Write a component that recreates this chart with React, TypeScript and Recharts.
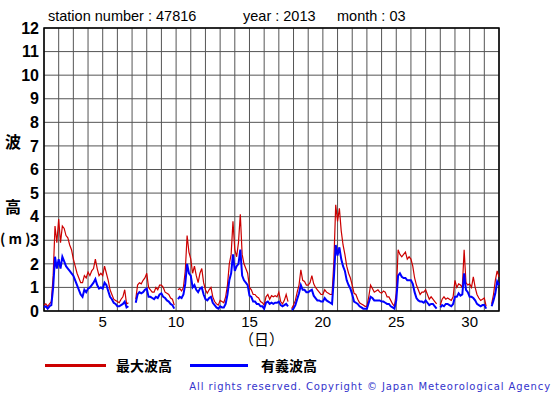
import React from 'react';
import { LineChart, Line, XAxis, YAxis, CartesianGrid, ReferenceArea } from 'recharts';

// 3-hourly readings, 8 per day, day 1 00h .. day 32 00h (null = missing data)
const maxWave = [
  0.25, 0.3, 0.2, 0.3, 0.4, 1.5, 3.6, 2.9, // 1
  3.9, 2.9, 3.6, 3.5, 3.2, 3.1, 2.8, 2.6, // 2
  2.2, 1.9, 1.6, 1.4, 1.2, 1.2, 1.5, 1.4, // 3
  1.65, 1.5, 1.7, 1.8, 2.2, 1.8, 1.5, 1.6, // 4
  1.5, 1.9, 1.6, 1.3, 0.9, 0.7, 0.5, 0.45, // 5
  0.4, 0.35, 0.5, 0.6, 0.9, 0.3, 0.35, null, // 6
  null, null, 0.5, 1.1, 1.2, 1.15, 1.3, 1.4, // 7
  1.6, 1.0, 0.9, 0.8, 0.8, 1.0, 0.9, 1.1, // 8
  1.1, 1.0, 0.8, 0.75, 0.7, 0.55, 0.5, 0.25, // 9
  null, 0.9, 0.95, 0.85, 1.0, 1.7, 3.2, 2.5, // 10
  2.2, 1.6, 1.9, 1.5, 1.2, 1.6, 1.8, 1.2, // 11
  0.9, 0.75, 0.9, 1.0, 0.6, 0.4, 0.3, 0.25, // 12
  0.45, 0.4, 0.35, 0.6, 1.1, 2.0, 2.4, 3.8, // 13
  2.6, 2.3, 2.9, 4.1, 2.4, 2.0, 1.8, 1.6, // 14
  1.0, 0.9, 0.7, 0.7, 0.6, 0.55, 0.4, 0.35, // 15
  0.25, 0.6, 0.7, 0.5, 0.65, 0.6, 0.65, 0.6, // 16
  0.8, 0.4, 0.3, 0.45, 0.7, 0.4, null, 0.1, // 17
  0.25, 0.45, 0.8, 1.1, 1.75, 1.3, 1.25, 1.1, // 18
  1.1, 1.2, 1.5, 1.15, 1.0, 0.9, 0.8, 0.7, // 19
  0.7, 0.9, 0.8, 0.75, 0.7, 0.7, 2.1, 4.5, // 20
  3.8, 4.35, 3.4, 2.8, 2.4, 1.9, 1.6, 1.4, // 21
  1.1, 0.75, 0.7, 0.5, 0.35, 0.3, 0.25, 0.2, // 22
  0.2, 0.6, 1.1, 0.95, 0.8, 0.85, 0.9, 0.8, // 23
  0.75, 0.85, 0.8, 0.6, 0.6, 0.45, 0.3, 0.2, // 24
  0.75, 2.6, 2.4, 2.3, 2.4, 2.5, 2.2, 2.3, // 25
  2.2, 1.9, 1.4, 1.1, 0.9, 0.7, 0.8, 0.8, // 26
  0.9, 0.7, 0.5, 0.6, 0.5, 0.4, 0.3, null, // 27
  0.25, 0.5, 0.6, 0.5, 0.55, 0.5, 0.45, 0.6, // 28
  1.3, 1.0, 1.15, 1.1, 1.0, 2.6, 1.2, 1.1, // 29
  1.15, 1.0, 1.45, 1.0, 0.7, 0.55, 0.45, 0.5, // 30
  0.55, 0.2, null, null, 0.3, 0.7, 1.3, 1.7, // 31
  1.45,
];

const sigWave = [
  0.15, 0.2, 0.1, 0.2, 0.25, 1.0, 2.3, 1.8, // 1
  2.2, 1.8, 2.3, 2.1, 1.9, 1.8, 1.7, 1.6, // 2
  1.5, 1.3, 1.1, 0.9, 0.7, 0.6, 0.9, 0.8, // 3
  0.95, 1.0, 1.1, 1.2, 1.35, 1.1, 0.95, 1.0, // 4
  0.95, 1.2, 1.1, 0.85, 0.6, 0.5, 0.35, 0.3, // 5
  0.2, 0.2, 0.25, 0.3, 0.4, 0.15, 0.2, null, // 6
  null, null, 0.35, 0.7, 0.8, 0.75, 0.8, 0.9, // 7
  0.95, 0.6, 0.6, 0.55, 0.5, 0.6, 0.55, 0.7, // 8
  0.75, 0.6, 0.55, 0.45, 0.4, 0.3, 0.25, 0.1, // 9
  null, 0.5, 0.6, 0.55, 0.7, 1.15, 2.0, 1.6, // 10
  1.5, 1.0, 1.1, 0.9, 0.8, 0.95, 1.0, 0.7, // 11
  0.5, 0.45, 0.55, 0.6, 0.35, 0.25, 0.15, 0.1, // 12
  0.2, 0.15, 0.15, 0.3, 0.7, 1.3, 1.6, 2.4, // 13
  1.7, 1.9, 2.0, 2.6, 1.5, 1.3, 1.2, 1.1, // 14
  0.65, 0.6, 0.4, 0.4, 0.3, 0.3, 0.2, 0.2, // 15
  0.1, 0.35, 0.4, 0.3, 0.35, 0.3, 0.35, 0.35, // 16
  0.4, 0.25, 0.2, 0.25, 0.3, 0.2, null, 0.05, // 17
  0.1, 0.25, 0.5, 0.75, 1.1, 0.9, 0.9, 0.8, // 18
  0.8, 0.85, 0.9, 0.65, 0.55, 0.45, 0.45, 0.4, // 19
  0.4, 0.55, 0.45, 0.4, 0.35, 0.3, 1.4, 2.8, // 20
  2.35, 2.7, 2.2, 1.9, 1.7, 1.3, 1.1, 0.95, // 21
  0.7, 0.4, 0.35, 0.3, 0.2, 0.15, 0.1, 0.1, // 22
  0.1, 0.35, 0.6, 0.55, 0.45, 0.45, 0.45, 0.45, // 23
  0.4, 0.4, 0.35, 0.3, 0.3, 0.2, 0.15, 0.1, // 24
  0.45, 1.5, 1.6, 1.45, 1.4, 1.4, 1.3, 1.3, // 25
  1.3, 1.15, 0.8, 0.55, 0.45, 0.4, 0.4, 0.35, // 26
  0.45, 0.35, 0.25, 0.3, 0.3, 0.2, 0.1, null, // 27
  0.15, 0.25, 0.2, 0.3, 0.3, 0.25, 0.2, 0.3, // 28
  0.6, 0.6, 0.75, 0.65, 0.7, 1.6, 0.9, 0.8, // 29
  0.6, 0.6, 0.55, 0.45, 0.3, 0.25, 0.2, 0.25, // 30
  0.25, 0.1, null, null, 0.2, 0.45, 0.75, 1.25, // 31
  1.1,
];

const dayTicks = [1, 2, 3, 4, 5, 6, 7, 8, 9, 10, 11, 12, 13, 14, 15, 16, 17, 18, 19, 20, 21, 22, 23, 24, 25, 26, 27, 28, 29, 30, 31, 32];
const heightTicks = [0, 1, 2, 3, 4, 5, 6, 7, 8, 9, 10, 11, 12];

const data = maxWave.map((v, i) => ({ t: 1 + i / 8, max: v, sig: sigWave[i] }));

const cjk = '"Noto Sans CJK JP", sans-serif';
const latin = '"Liberation Sans", Arial, sans-serif';

export default function App() {
  return (
    <div style={{ position: 'relative', width: 555, height: 395, background: '#fff', fontFamily: latin }}>
      <style>{'body{margin:0}'}</style>
      <LineChart width={555} height={395} data={data} margin={{ top: 28, right: 56, bottom: 54, left: 14 }}>
        <CartesianGrid stroke="#555" strokeWidth={1} />
        <XAxis
          dataKey="t"
          type="number"
          domain={[1, 32]}
          ticks={dayTicks}
          interval={0}
          tickFormatter={(d: number) => (d % 5 === 0 ? String(d) : '')}
          tickSize={0}
          tickMargin={5}
          axisLine={false}
          height={30}
          tick={{ fill: '#000', fontSize: 15, fontFamily: latin }}
        />
        <YAxis
          type="number"
          domain={[0, 12]}
          ticks={heightTicks}
          interval={0}
          tickSize={0}
          tickMargin={5}
          axisLine={false}
          width={30}
          tick={{ fill: '#000', fontSize: 16, fontWeight: 'bold', fontFamily: latin }}
        />
        <Line dataKey="max" stroke="#cc0000" strokeWidth={1.2} dot={false} connectNulls={false} isAnimationActive={false} />
        <Line dataKey="sig" stroke="#0000ff" strokeWidth={2} dot={false} connectNulls={false} isAnimationActive={false} />
        <ReferenceArea x1={1} x2={32} y1={0} y2={12} fill="none" stroke="#000" strokeWidth={1.5} ifOverflow="visible" />
      </LineChart>

      <div style={{ position: 'absolute', left: 48, top: 8, fontSize: 14.5, whiteSpace: 'pre' }}>station number : 47816</div>
      <div style={{ position: 'absolute', left: 243, top: 8, fontSize: 14.5, whiteSpace: 'pre' }}>year : 2013</div>
      <div style={{ position: 'absolute', left: 337, top: 8, fontSize: 14.5, whiteSpace: 'pre' }}>month : 03</div>

      <div style={{ position: 'absolute', left: 5, top: 131, fontSize: 16, fontWeight: 'bold', fontFamily: cjk, lineHeight: '20px' }}>波</div>
      <div style={{ position: 'absolute', left: 5, top: 196, fontSize: 16, fontWeight: 'bold', fontFamily: cjk, lineHeight: '20px' }}>高</div>
      <div style={{ position: 'absolute', left: 0, top: 228, fontSize: 14, fontWeight: 'bold', fontFamily: cjk, lineHeight: '20px', whiteSpace: 'pre' }}>
        ( m )
      </div>

      <div style={{ position: 'absolute', left: 239, top: 329, fontSize: 15, fontFamily: cjk, lineHeight: '20px', whiteSpace: 'pre' }}>（日）</div>

      <div style={{ position: 'absolute', left: 45, top: 364, width: 61, height: 3, background: '#cc0000' }} />
      <div style={{ position: 'absolute', left: 116, top: 355, fontSize: 14, fontWeight: 'bold', fontFamily: cjk, lineHeight: '20px' }}>最大波高</div>
      <div style={{ position: 'absolute', left: 190, top: 364, width: 58, height: 3, background: '#0000ff' }} />
      <div style={{ position: 'absolute', left: 261, top: 355, fontSize: 14, fontWeight: 'bold', fontFamily: cjk, lineHeight: '20px' }}>有義波高</div>

      <div style={{ position: 'absolute', right: 4, top: 381, fontSize: 10, letterSpacing: 0.9, color: '#3333cc', whiteSpace: 'pre', fontFamily: '"DejaVu Sans", sans-serif' }}>
        All rights reserved. Copyright © Japan Meteorological Agency
      </div>
    </div>
  );
}
